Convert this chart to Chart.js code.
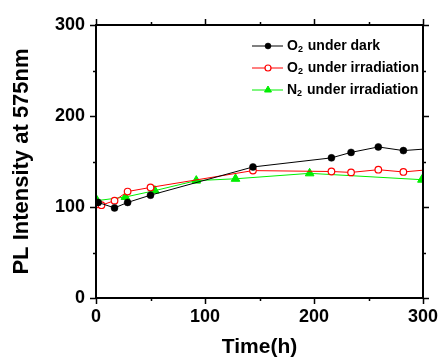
<!DOCTYPE html>
<html>
<head>
<meta charset="utf-8">
<script src="https://cdn.jsdelivr.net/npm/chart.js@4.4.1/dist/chart.umd.min.js"></script>
<style>
  html, body { margin: 0; padding: 0; background: #fff; }
  #wrap { width: 443px; height: 360px; }
</style>
</head>
<body>
<div id="wrap"><canvas id="chart" width="443" height="360"></canvas></div>
<script>
// values
const seriesNames = ["O₂ under dark", "O₂ under irradiation", "N₂ under irradiation"];

const darkHours = [2, 17, 29, 50, 144, 216, 234, 259, 282, 305];
const darkValues = [105, 99, 105, 113, 144, 154, 160, 166, 162, 164];

const irrHours = [1, 5, 17, 29, 50, 144, 216, 234, 259, 282, 305];
const irrValues = [103, 102, 107, 117, 121.5, 140, 139, 138, 141, 138.5, 141];

const n2Hours = [1, 27, 54, 92, 128, 196, 299];
const n2Values = [107, 111, 118, 129, 131, 137, 130];

const xTicks = [0, 100, 200, 300];
const yTicks = [0, 100, 200, 300];

const FONT = "'Liberation Sans', Arial, sans-serif";

function toPoints(xs, ys) {
    return xs.map((x, i) => ({ x: x, y: ys[i] }));
}

// box frame + major/minor tick marks on all four sides
const framePlugin = {
    id: "frame",
    afterDraw(chart) {
        const ctx = chart.ctx;
        const a = chart.chartArea;
        const xs = chart.scales.x;
        const ys = chart.scales.y;
        ctx.save();
        ctx.strokeStyle = "#000";
        ctx.lineWidth = 2;
        ctx.beginPath();
        ctx.rect(a.left, a.top, a.right - a.left, a.bottom - a.top);
        ctx.stroke();
        ctx.lineWidth = 1.5;
        ctx.beginPath();
        for (let v = 0; v <= 300; v += 50) {
            const len = v % 100 === 0 ? 6 : 3;
            const px = Math.round(xs.getPixelForValue(v)) + 0.5;
            ctx.moveTo(px, a.bottom); ctx.lineTo(px, a.bottom + len);
            ctx.moveTo(px, a.top); ctx.lineTo(px, a.top - len);
            const py = Math.round(ys.getPixelForValue(v)) + 0.5;
            ctx.moveTo(a.left, py); ctx.lineTo(a.left - len, py);
            ctx.moveTo(a.right, py); ctx.lineTo(a.right + len, py);
        }
        ctx.stroke();
        ctx.restore();
    }
};

// legend: line-marker-line sample, text with subscript 2
const legendPlugin = {
    id: "subLegend",
    afterDraw(chart) {
        const ctx = chart.ctx;
        const rows = [46, 68, 90];
        ctx.save();
        chart.data.datasets.forEach((ds, i) => {
            const y = rows[i];
            ctx.strokeStyle = ds.borderColor;
            ctx.lineWidth = 1;
            ctx.beginPath();
            ctx.moveTo(252, y); ctx.lineTo(283, y);
            ctx.stroke();
            ctx.fillStyle = ds.pointBackgroundColor;
            ctx.strokeStyle = ds.pointBorderColor;
            ctx.lineWidth = ds.pointBorderWidth;
            Chart.helpers.drawPoint(ctx, {
                pointStyle: ds.pointStyle,
                radius: ds.pointStyle === "triangle" ? 4 : 3,
                borderWidth: ds.pointBorderWidth,
                rotation: 0
            }, 268, y);

            const parts = seriesNames[i].split("₂");
            let x = 287;
            ctx.fillStyle = "#000";
            ctx.textBaseline = "middle";
            ctx.font = "bold 14px " + FONT;
            ctx.fillText(parts[0], x, y);
            x += ctx.measureText(parts[0]).width;
            ctx.font = "bold 9px " + FONT;
            ctx.fillText("2", x, y + 4);
            x += ctx.measureText("2").width + 1;
            ctx.font = "bold 14px " + FONT;
            ctx.fillText(parts[1], x, y);
        });
        ctx.restore();
    }
};

const chartConfig = {
    type: "scatter",
    data: {
        datasets: [
            {
                label: seriesNames[0],
                data: toPoints(darkHours, darkValues),
                showLine: true,
                borderColor: "#000",
                borderWidth: 1,
                pointStyle: "circle",
                pointRadius: 3.5,
                pointBackgroundColor: "#000",
                pointBorderColor: "#000",
                pointBorderWidth: 0.5,
                clip: 0,
            },
            {
                label: seriesNames[1],
                data: toPoints(irrHours, irrValues),
                showLine: true,
                borderColor: "#ff0000",
                borderWidth: 1,
                pointStyle: "circle",
                pointRadius: 3.3,
                pointBackgroundColor: "#fff",
                pointBorderColor: "#ff0000",
                pointBorderWidth: 1.2,
                clip: 0,
            },
            {
                label: seriesNames[2],
                data: toPoints(n2Hours, n2Values),
                showLine: true,
                borderColor: "#00ee00",
                borderWidth: 1,
                pointStyle: "triangle",
                pointRadius: 5,
                pointBackgroundColor: "#00ee00",
                pointBorderColor: "#00ee00",
                pointBorderWidth: 1,
                clip: 0,
            },
        ],
    },
    options: {
        responsive: false,
        animation: false,
        layout: { padding: { left: 0, top: 25, right: 20, bottom: 0 } },
        plugins: {
            legend: { display: false },
            tooltip: { enabled: false },
        },
        scales: {
            x: {
                type: "linear",
                min: 0,
                max: 300,
                afterBuildTicks: (axis) => { axis.ticks = xTicks.map((v) => ({ value: v })); },
                afterFit: (axis) => { axis.height = 62; },
                grid: { display: false, drawTicks: true, tickLength: 6 },
                border: { display: false },
                ticks: {
                    color: "#000",
                    padding: 2,
                    maxRotation: 0,
                    font: { family: FONT, size: 18, weight: "bold" },
                },
                title: {
                    display: true,
                    text: "Time(h)",
                    color: "#000",
                    padding: { top: 0, bottom: 0 },
                    font: { family: FONT, size: 21, weight: "bold" },
                },
            },
            y: {
                type: "linear",
                min: 0,
                max: 300,
                afterBuildTicks: (axis) => { axis.ticks = yTicks.map((v) => ({ value: v })); },
                afterFit: (axis) => { axis.width = 96; },
                grid: { display: false, drawTicks: true, tickLength: 6 },
                border: { display: false },
                ticks: {
                    color: "#000",
                    padding: 5,
                    font: { family: FONT, size: 18, weight: "bold" },
                },
                title: {
                    display: true,
                    text: "PL Intensity at 575nm",
                    color: "#000",
                    padding: { top: 9, bottom: 0 },
                    font: { family: FONT, size: 22, weight: "bold" },
                },
            },
        },
    },
    plugins: [framePlugin, legendPlugin],
};

new Chart(document.getElementById("chart"), chartConfig);
</script>
</body>
</html>
